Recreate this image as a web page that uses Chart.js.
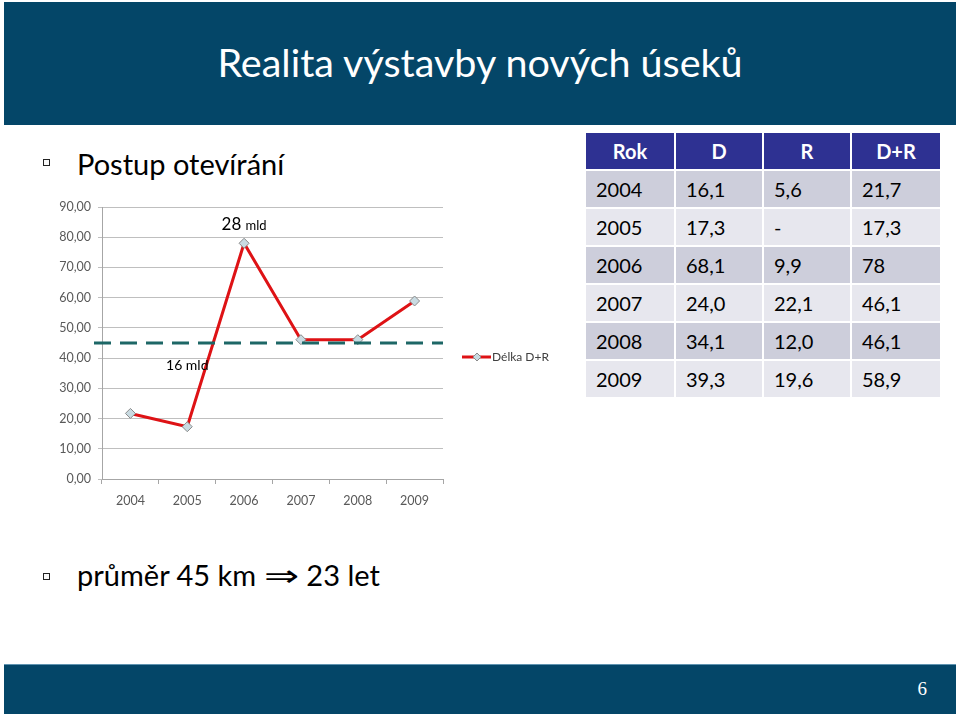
<!DOCTYPE html>
<html lang="cs">
<head>
<meta charset="utf-8">
<title>Realita výstavby nových úseků</title>
<script src="https://cdn.jsdelivr.net/npm/chart.js@4.4.1/dist/chart.umd.min.js"></script>
<style>
    html, body { margin: 0; padding: 0; background: #fff; }
    body { width: 960px; height: 716px; position: relative; overflow: hidden; font-family: Lato, 'DejaVu Sans', sans-serif; }
    .band { position: absolute; left: 4px; width: 952px; background: #044668; }
    #header { top: 2px; height: 123px; }
    #footer { top: 664px; height: 49px; border-top: 1px solid #5f93b0; }
    #title { position: absolute; left: 0; width: 960px; top: 38px; text-align: center; color: #fff; font-size: 39.5px; line-height: 1.2; }
    .bullet { position: absolute; left: 77px; font-size: 29px; line-height: 1.2; color: #000; white-space: nowrap; }
    .bullet::before { content: ''; position: absolute; left: -34px; width: 5px; height: 5px; border: 1.5px solid #222; background: #fafafa; }
    #b1 { top: 147px; }
    #b1::before { top: 12px; }
    #b2 { top: 556px; }
    #b2::before { top: 17px; }
    .arrow { display: inline-block; font-size: 30px; transform: scaleX(1.4); margin: 0 12px 0 13px; }
    #page { position: absolute; right: 33px; top: 678px; color: #fff; font-family: 'Liberation Serif', 'DejaVu Serif', serif; font-size: 19px; }
    #chartBox { position: absolute; left: 40px; top: 190px; width: 520px; height: 330px; }
    #dataTable { position: absolute; left: 586px; top: 133px; display: grid; grid-template-columns: 88px 86px 86px 88px; grid-auto-rows: 36px; gap: 2px; }
    #dataTable div { font-size: 20px; line-height: 37px; padding-left: 10px; color: #000; }
    #dataTable .head { background: #2e3192; color: #fff; font-weight: bold; text-align: center; padding-left: 0; }
    #dataTable .odd { background: #cdcedb; }
    #dataTable .even { background: #e7e7ee; }
</style>
</head>
<body>
<div id="header" class="band"></div>
<div id="title">Realita výstavby nových úseků</div>
<div id="b1" class="bullet">Postup otevírání</div>
<div id="chartBox"><canvas id="lineChart"></canvas></div>
<div id="dataTable"></div>
<div id="b2" class="bullet">průměr 45 km<span class="arrow">⇒</span>23 let</div>
<div id="footer" class="band"></div>
<div id="page">6</div>

<script>
// --- data ---
const years       = ['2004', '2005', '2006', '2007', '2008', '2009'];
const totalValues = [21.7, 17.3, 78, 46.1, 46.1, 58.9];   // Délka D+R
const averageKm   = 45;

const tableHead  = ['Rok', 'D', 'R', 'D+R'];
const tableD     = ['16,1', '17,3', '68,1', '24,0', '34,1', '39,3'];
const tableR     = ['5,6', '-', '9,9', '22,1', '12,0', '19,6'];
const tableTotal = ['21,7', '17,3', '78', '46,1', '46,1', '58,9'];

const noteYears  = ['2006', '2005'];
const noteValues = [82.3, 36.1];
const noteNums   = ['28', '16'];
const noteUnits  = ['mld', 'mld'];

const yMax  = 90;
const yStep = 10;

// --- table ---
const tableEl = document.getElementById('dataTable');
tableHead.forEach(h => {
    const c = document.createElement('div');
    c.className = 'head';
    c.textContent = h;
    tableEl.appendChild(c);
});
years.forEach((y, i) => {
    [y, tableD[i], tableR[i], tableTotal[i]].forEach(v => {
        const c = document.createElement('div');
        c.className = i % 2 === 0 ? 'odd' : 'even';
        c.textContent = v;
        tableEl.appendChild(c);
    });
});

// --- chart plugins ---
const avgLinePlugin = {
    id: 'avgLine',
    afterDatasetsDraw(chart) {
        const { ctx, chartArea, scales } = chart;
        const py = scales.y.getPixelForValue(averageKm);
        ctx.save();
        ctx.strokeStyle = '#1d6766';
        ctx.lineWidth = 3;
        ctx.setLineDash([17, 9]);
        ctx.beginPath();
        ctx.moveTo(chartArea.left - 8, py);
        ctx.lineTo(chartArea.right, py);
        ctx.stroke();
        ctx.restore();
    }
};

const notesPlugin = {
    id: 'notes',
    afterDatasetsDraw(chart) {
        const { ctx, scales } = chart;
        const sizes = [[17, 13], [14, 14]];
        ctx.save();
        ctx.fillStyle = '#000';
        ctx.textBaseline = 'alphabetic';
        ctx.textAlign = 'left';
        noteYears.forEach((yr, i) => {
            const cx = scales.x.getPixelForValue(years.indexOf(yr));
            const cy = scales.y.getPixelForValue(noteValues[i]);
            const numFont  = sizes[i][0] + 'px Lato';
            const unitFont = sizes[i][1] + 'px Lato';
            ctx.font = numFont;
            const wNum = ctx.measureText(noteNums[i] + ' ').width;
            ctx.font = unitFont;
            const wUnit = ctx.measureText(noteUnits[i]).width;
            const x = cx - (wNum + wUnit) / 2;
            ctx.font = numFont;
            ctx.fillText(noteNums[i] + ' ', x, cy);
            ctx.font = unitFont;
            ctx.fillText(noteUnits[i], x + wNum, cy);
        });
        ctx.restore();
    }
};

const legendPlugin = {
    id: 'sideLegend',
    afterDraw(chart) {
        const { ctx, chartArea } = chart;
        const ds = chart.data.datasets[0];
        const x0 = chartArea.right + 19;
        const y0 = chart.height / 2 + 2;
        ctx.save();
        ctx.strokeStyle = ds.borderColor;
        ctx.lineWidth = 3;
        ctx.beginPath();
        ctx.moveTo(x0, y0);
        ctx.lineTo(x0 + 29, y0);
        ctx.stroke();
        ctx.fillStyle = ds.pointBackgroundColor;
        ctx.strokeStyle = ds.pointBorderColor;
        ctx.lineWidth = 1;
        ctx.beginPath();
        ctx.moveTo(x0 + 15, y0 - 4);
        ctx.lineTo(x0 + 19, y0);
        ctx.lineTo(x0 + 15, y0 + 4);
        ctx.lineTo(x0 + 11, y0);
        ctx.closePath();
        ctx.fill();
        ctx.stroke();
        ctx.fillStyle = '#404040';
        ctx.font = '12px Lato';
        ctx.textAlign = 'left';
        ctx.textBaseline = 'middle';
        ctx.fillText(ds.label, x0 + 30, y0);
        ctx.restore();
    }
};

// --- chart ---
new Chart(document.getElementById('lineChart').getContext('2d'), {
    type: 'line',
    data: {
        labels: years,
        datasets: [{
            label: 'Délka D+R',
            data: totalValues,
            borderColor: '#de1215',
            borderWidth: 3,
            tension: 0,
            pointStyle: 'rectRot',
            pointRadius: 5,
            pointHoverRadius: 5,
            pointBackgroundColor: '#c9dbe2',
            pointBorderColor: '#8a8a8a',
            pointBorderWidth: 1,
        }],
    },
    options: {
        responsive: true,
        maintainAspectRatio: false,
        animation: false,
        layout: { padding: { top: 17, right: 117, left: 0, bottom: 0 } },
        plugins: { legend: { display: false }, tooltip: { enabled: false } },
        scales: {
            x: {
                offset: true,
                grid: { offset: true, drawOnChartArea: false, drawTicks: true, tickLength: 5, color: '#a6a6a6' },
                border: { color: '#a6a6a6' },
                ticks: { color: '#595959', padding: 9, font: { family: 'Lato', size: 12.5 } },
                afterFit: s => { s.height = 41; },
            },
            y: {
                min: 0,
                max: yMax,
                ticks: {
                    stepSize: yStep,
                    color: '#595959',
                    padding: 7,
                    font: { family: 'Lato', size: 12.5 },
                    callback: v => v.toFixed(2).replace('.', ','),
                },
                grid: { color: '#bfbfbf', tickLength: 4 },
                border: { color: '#a6a6a6' },
                afterFit: s => { s.width = 62; },
            },
        },
    },
    plugins: [avgLinePlugin, notesPlugin, legendPlugin],
});
</script>
</body>
</html>
